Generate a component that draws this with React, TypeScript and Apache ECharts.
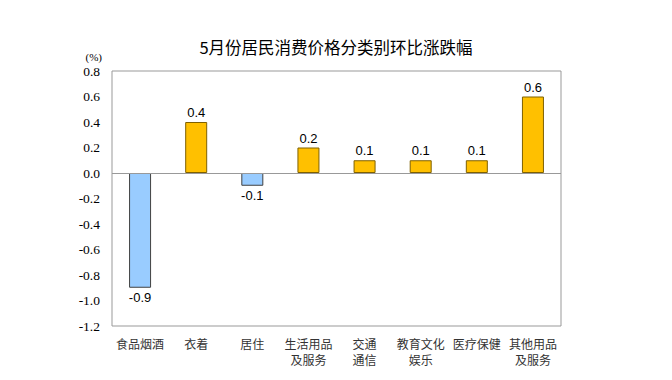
import React, { useEffect, useRef } from "react";
import * as echarts from "echarts";

const categories = ["食品烟酒", "衣着", "居住", "生活用品\n及服务", "交通\n通信", "教育文化\n娱乐", "医疗保健", "其他用品\n及服务"];
const values = [-0.9, 0.4, -0.1, 0.2, 0.1, 0.1, 0.1, 0.6];
const yMin = -1.2;
const yMax = 0.8;
const yStep = 0.2;

export default function App() {
  const ref = useRef<HTMLDivElement>(null);
  useEffect(() => {
    const chart = echarts.init(ref.current!, null, { renderer: "svg" });
    chart.setOption({
      animation: false,
      backgroundColor: "#ffffff",
      title: {
        text: "5月份居民消费价格分类别环比涨跌幅",
        left: "center",
        top: 34,
        textStyle: { fontFamily: "Noto Sans CJK SC", fontSize: 16.5, fontWeight: "normal", color: "#000" },
      },
      grid: { left: 112, right: 111, top: 71, bottom: 54, show: true, borderColor: "#999", borderWidth: 1, backgroundColor: "transparent" },
      xAxis: {
        type: "category",
        data: categories,
        axisLine: { show: false, onZero: false },
        axisTick: { show: false },
        axisLabel: { color: "#333", fontSize: 12, fontFamily: "Noto Sans CJK SC", lineHeight: 16, margin: 9, interval: 0 },
      },
      yAxis: {
        type: "value",
        min: yMin,
        max: yMax,
        interval: yStep,
        name: "(%)",
        nameLocation: "end",
        nameGap: 9,
        nameTextStyle: { fontFamily: "'Liberation Serif', 'DejaVu Serif', serif", fontSize: 11, color: "#000", align: "right", padding: [0, 10, 0, 0] },
        axisLine: { show: false },
        axisTick: { show: false },
        splitLine: { show: false },
        axisLabel: {
          fontFamily: "'Liberation Serif', 'DejaVu Serif', serif",
          fontSize: 13.5,
          color: "#000",
          margin: 12,
          formatter: (v: number) => v.toFixed(1),
        },
      },
      series: [
        {
          type: "bar",
          data: values.map((v) => ({
            value: v,
            itemStyle: {
              color: v >= 0 ? "#FFC000" : "#99CCFF",
              borderColor: v >= 0 ? "#7F6000" : "#404040",
              borderWidth: 1,
            },
            label: { position: v >= 0 ? "top" : "bottom" },
          })),
          barWidth: 22,
          label: {
            show: true,
            fontFamily: "'Liberation Sans', Arial, sans-serif",
            fontSize: 13,
            color: "#000",
            distance: 3,
            formatter: (p: any) => p.value.toFixed(1),
          },
          markLine: {
            silent: true,
            symbol: "none",
            label: { show: false },
            lineStyle: { color: "#999", width: 1, type: "solid" },
            data: [{ yAxis: 0 }],
          },
        },
      ],
    });
    return () => chart.dispose();
  }, []);
  return <div ref={ref} style={{ width: 672, height: 380, margin: -8 }} />;
}
